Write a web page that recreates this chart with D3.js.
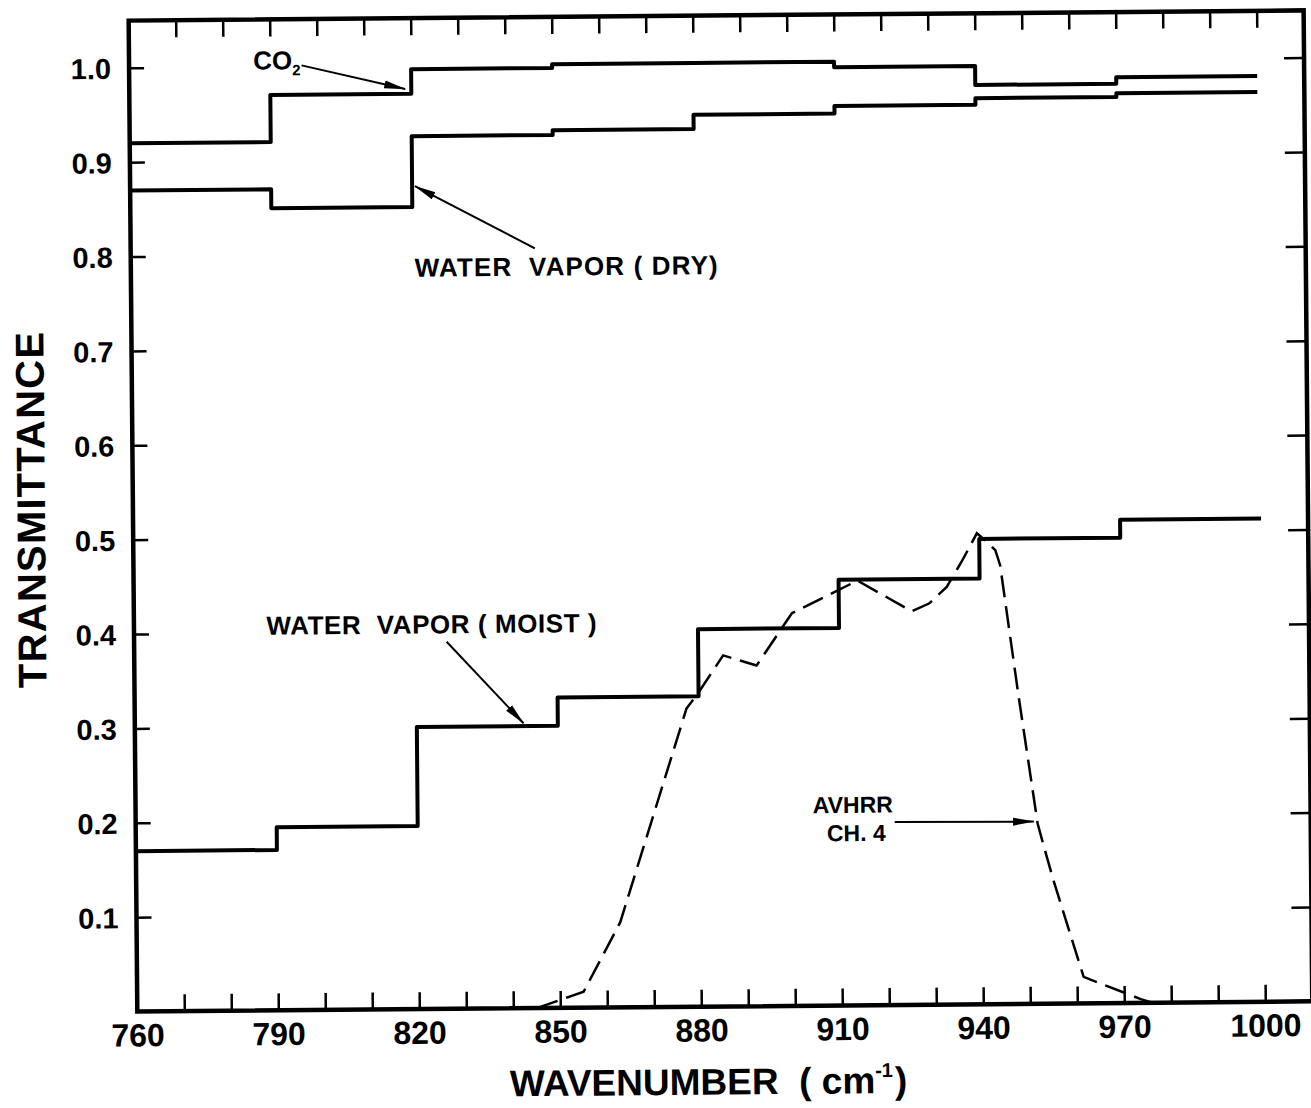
<!DOCTYPE html>
<html>
<head>
<meta charset="utf-8">
<script src="https://cdn.jsdelivr.net/npm/d3@7.9.0/dist/d3.min.js"></script>
<style>
  html, body { margin: 0; padding: 0; background: #fff; }
  svg { display: block; font-family: "Liberation Sans", Arial, sans-serif; }
  text { white-space: pre; }
</style>
</head>
<body>
<svg id="chart" width="1311" height="1108"></svg>
<script>
// band edges (cm-1) and mean transmittance in each 30 cm-1 band
let bandEdges = [760, 790, 820, 850, 880, 910, 940, 970, 1000];
let co2 = [0.92, 0.97, 0.996, 1.0, 1.0, 0.994, 0.974, 0.981];
let vaporDry = [0.870, 0.850, 0.925, 0.930, 0.945, 0.953, 0.960, 0.964];
let vaporMoist = [0.170, 0.194, 0.299, 0.329, 0.400, 0.451, 0.493, 0.512];

// AVHRR channel 4 filter response (dashed)
let avhrrWavenumber = [845, 855, 862.9, 877.4, 880, 885.3, 892.4, 900, 914, 925.5, 929.2, 933, 936.2, 939.5, 941.6, 943.4, 944.4, 948, 951.9, 953, 955.2, 961.4, 973.5, 976];
let avhrrResponse = [0, 0.017, 0.09, 0.316, 0.333, 0.372, 0.361, 0.416, 0.450, 0.417, 0.425, 0.4425, 0.469, 0.499, 0.490, 0.481, 0.465, 0.329, 0.191, 0.170, 0.130, 0.028, 0.004, 0];

// ticks
let xTicks = [760, 770, 780, 790, 800, 810, 820, 830, 840, 850, 860, 870, 880, 890, 900, 910, 920, 930, 940, 950, 960, 970, 980, 990, 1000];
let xLabels = [760, 790, 820, 850, 880, 910, 940, 970, 1000];
let yTicks = [0.1, 0.2, 0.3, 0.4, 0.5, 0.6, 0.7, 0.8, 0.9, 1.0];
let yLabels = ['0.1', '0.2', '0.3', '0.4', '0.5', '0.6', '0.7', '0.8', '0.9', '1.0'];

let x = d3.scaleLinear().domain([760, 1010]).range([133, 1308]);
let y = d3.scaleLinear().domain([0, 1.05]).range([1006.5, 15.5]);

let svg = d3.select('#chart');
svg.append('rect').attr('width', 1311).attr('height', 1108).attr('fill', '#fff');

svg.append('defs').append('marker')
  .attr('id', 'head')
  .attr('markerUnits', 'userSpaceOnUse')
  .attr('viewBox', '0 0 22 10')
  .attr('refX', 21).attr('refY', 5)
  .attr('markerWidth', 22).attr('markerHeight', 10)
  .attr('orient', 'auto')
  .append('path')
  .attr('d', 'M0,1 L22,5 L0,9 Z')
  .attr('fill', '#000');

// the scanned figure is tilted a little
let g = svg.append('g').attr('transform', 'rotate(-0.5 720 515)');

function styleAxis(sel) {
  sel.select('.domain').remove();
  sel.attr('font-family', null);
  sel.selectAll('line').attr('stroke', '#000').attr('stroke-width', 2.5);
  sel.selectAll('text').attr('fill', '#000').attr('font-weight', 'bold');
}

g.append('g')
  .attr('transform', `translate(${x(760)},0)`)
  .call(d3.axisLeft(y).tickValues(yTicks).tickSize(-15).tickPadding(18).tickFormat((d, i) => yLabels[i]))
  .call(styleAxis)
  .call((s) => s.selectAll('text').attr('font-size', 29).attr('dy', '0.36em'));

g.append('g')
  .attr('transform', `translate(${x(1010)},0)`)
  .call(d3.axisRight(y).tickValues(yTicks).tickSize(-20).tickFormat(''))
  .call(styleAxis);

g.append('g')
  .attr('transform', `translate(0,${y(0)})`)
  .call(d3.axisBottom(x).tickValues(xTicks).tickSize(-17).tickPadding(12)
    .tickFormat((d) => (xLabels.includes(d) ? d : '')))
  .call(styleAxis)
  .call((s) => s.selectAll('text').attr('font-size', 32));

g.append('g')
  .attr('transform', `translate(0,${y(1.05)})`)
  .call(d3.axisTop(x).tickValues(xTicks.slice(1)).tickSize(-17).tickFormat(''))
  .call(styleAxis);

// frame
g.append('rect')
  .attr('x', x(760)).attr('y', y(1.05))
  .attr('width', x(1010) - x(760)).attr('height', y(0) - y(1.05))
  .attr('fill', 'none').attr('stroke', '#000').attr('stroke-width', 4.5);

// step curves
let stepLine = d3.line()
  .x((d) => x(d[0]))
  .y((d) => y(d[1]))
  .curve(d3.curveStepAfter);

function bandPoints(values) {
  let pts = values.map((v, i) => [bandEdges[i], v]);
  pts.push([bandEdges[values.length], values[values.length - 1]]);
  return pts;
}

[co2, vaporDry, vaporMoist].forEach((series) => {
  g.append('path')
    .attr('d', stepLine(bandPoints(series)))
    .attr('fill', 'none')
    .attr('stroke', '#000')
    .attr('stroke-width', 4)
    .attr('stroke-linejoin', 'round');
});

let avhrrLine = d3.line().x((d) => x(d[0])).y((d) => y(d[1]));
g.append('path')
  .attr('d', avhrrLine(avhrrWavenumber.map((w, i) => [w, avhrrResponse[i]])))
  .attr('fill', 'none')
  .attr('stroke', '#000')
  .attr('stroke-width', 2.5)
  .attr('stroke-dasharray', '22 9');

// annotation arrows, in data units
let arrows = [
  { from: [796.7, 1.001], to: [818.7, 0.975] },
  { from: [846.0, 0.805], to: [820.6, 0.872] },
  { from: [826.5, 0.389], to: [842.7, 0.302] },
  { from: [921.5, 0.194], to: [951.1, 0.193] }
];
arrows.forEach((a) => {
  g.append('line')
    .attr('x1', x(a.from[0])).attr('y1', y(a.from[1]))
    .attr('x2', x(a.to[0])).attr('y2', y(a.to[1]))
    .attr('stroke', '#000').attr('stroke-width', 2)
    .attr('marker-end', 'url(#head)');
});

let co2Label = g.append('text')
  .attr('x', x(786.4)).attr('y', y(0.997))
  .attr('font-size', 26).attr('font-weight', 'bold');
co2Label.append('tspan').text('CO');
co2Label.append('tspan').attr('font-size', 15).attr('dy', 6).text('2');

g.append('text')
  .attr('x', x(820.4)).attr('y', y(0.776))
  .attr('font-size', 26).attr('font-weight', 'bold')
  .attr('textLength', 303).attr('lengthAdjust', 'spacing')
  .text('WATER  VAPOR ( DRY)');

g.append('text')
  .attr('x', x(788.2)).attr('y', y(0.398))
  .attr('font-size', 26).attr('font-weight', 'bold')
  .attr('textLength', 330).attr('lengthAdjust', 'spacing')
  .text('WATER  VAPOR ( MOIST )');

g.append('text')
  .attr('x', x(912.6)).attr('y', y(0.204))
  .attr('text-anchor', 'middle')
  .attr('font-size', 23).attr('font-weight', 'bold')
  .text('AVHRR');
g.append('text')
  .attr('x', x(913.3)).attr('y', y(0.174))
  .attr('text-anchor', 'middle')
  .attr('font-size', 23).attr('font-weight', 'bold')
  .text('CH. 4');

// axis titles
g.append('text')
  .attr('transform', `translate(45,${(y(0) + y(1.05)) / 2 - 7}) rotate(-90)`)
  .attr('text-anchor', 'middle')
  .attr('font-size', 40).attr('font-weight', 'bold')
  .attr('textLength', 356).attr('lengthAdjust', 'spacing')
  .text('TRANSMITTANCE');

let xTitle = g.append('text')
  .attr('x', 505).attr('y', y(0) + 88)
  .attr('font-size', 37).attr('font-weight', 'bold');
xTitle.append('tspan').text('WAVENUMBER  ( cm');
xTitle.append('tspan').attr('font-size', 20).attr('dy', -16).text('-1');
xTitle.append('tspan').attr('dy', 16).attr('dx', 2).text(')');
</script>
</body>
</html>
